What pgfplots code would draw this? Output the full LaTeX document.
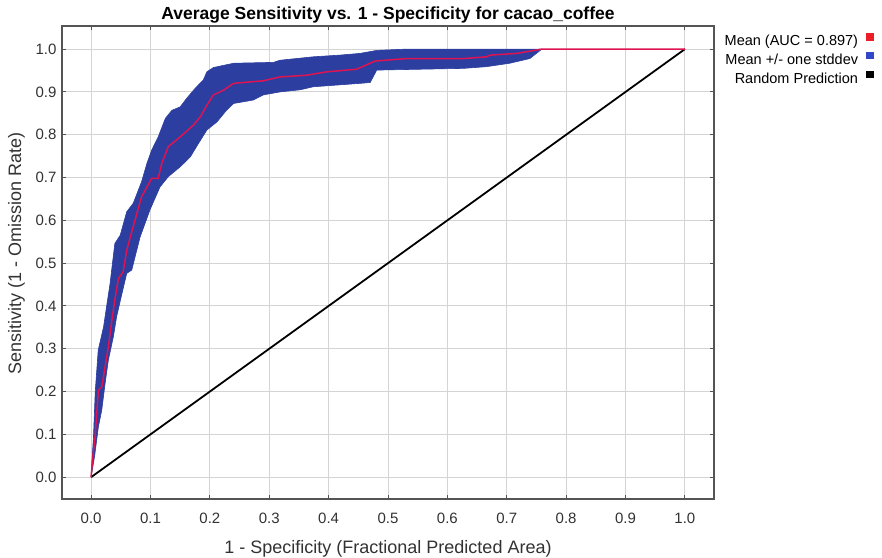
\documentclass[border=0pt]{standalone}
\usepackage{pgfplots}
\pgfplotsset{compat=1.18}
\usepackage{fontspec}
\setmainfont{Liberation Sans}
\definecolor{bandblue}{RGB}{44,62,160}
\definecolor{meanred}{RGB}{222,20,82}
\definecolor{legred}{RGB}{235,30,40}
\definecolor{legblue}{RGB}{50,70,200}
\definecolor{gridgray}{RGB}{212,212,212}
\definecolor{framegray}{RGB}{85,85,85}
\definecolor{labgray}{RGB}{50,50,50}
\begin{document}
\begin{tikzpicture}
\begin{axis}[
  name=ax,
  scale only axis,
  width=652pt, height=473pt,
  xmin=-0.049, xmax=1.049,
  ymin=-0.051, ymax=1.054,
  xtick={0,0.1,...,1.0},
  ytick={0,0.1,...,1.0},
  grid=major,
  major grid style={gridgray, line width=0.9pt},
  axis line style={framegray, line width=1.2pt},
  tick style={framegray, line width=1pt},
  major tick length=4pt,
  tick align=inside,
  /pgf/number format/assume math mode=true,
  /pgf/number format/fixed,
  /pgf/number format/fixed zerofill,
  /pgf/number format/precision=1,
  ticklabel style={font=\fontsize{15}{17}\selectfont, text=labgray},
  xticklabel style={yshift=-10pt},
  yticklabel style={xshift=-2pt},
  title={Average Sensitivity vs. 1 - Specificity for cacao\_coffee},
  title style={font=\bfseries\fontsize{17.5}{20}\selectfont, at={(axis description cs:0.5,1)}, anchor=base, yshift=0.5pt},
  xlabel={1 - Specificity (Fractional Predicted Area)},
  ylabel={Sensitivity (1 - Omission Rate)},
  xlabel style={font=\fontsize{18}{21}\selectfont, text=labgray, at={(axis description cs:0.5,-0.116)}, anchor=base},
  ylabel style={font=\fontsize{18}{21}\selectfont, text=labgray, at={(axis description cs:-0.070,0.52)}, anchor=center, rotate=0},
  legend plot pos=right,
  legend cell align=right,
  legend style={draw=none, fill=none, at={(rel axis cs:1,1)}, anchor=north west,
    xshift=6pt, yshift=-5pt, row sep=3pt,
    font=\fontsize{14.5}{17}\selectfont,
    nodes={inner sep=1.5pt, text=black}},
]
% random prediction
\addplot[black, line width=1.8pt, forget plot] coordinates {(0,0) (1,1)};
% mean +/- one stddev band
\addplot[fill=bandblue, draw=bandblue, line width=0.6pt, forget plot] coordinates {
(0,0) (0.002,0.05) (0.004,0.094) (0.007,0.20) (0.012,0.297) (0.021,0.351)
(0.026,0.398) (0.032,0.453) (0.036,0.50) (0.040,0.546) (0.049,0.565)
(0.060,0.620) (0.071,0.640) (0.085,0.690) (0.094,0.733) (0.102,0.764)
(0.113,0.795) (0.125,0.838) (0.136,0.857) (0.150,0.865) (0.161,0.885)
(0.175,0.908) (0.189,0.928) (0.195,0.947) (0.206,0.957) (0.240,0.967)
(0.307,0.969) (0.318,0.974) (0.374,0.982) (0.419,0.986) (0.453,0.990)
(0.481,0.997) (0.531,1.0) (0.759,1.0)
(0.739,0.978) (0.705,0.967) (0.666,0.959) (0.627,0.955) (0.481,0.951)
(0.470,0.922) (0.453,0.920) (0.374,0.912) (0.352,0.905) (0.318,0.900)
(0.290,0.893) (0.273,0.881) (0.240,0.873) (0.228,0.857) (0.212,0.830)
(0.195,0.811) (0.181,0.780) (0.167,0.748) (0.150,0.725) (0.130,0.702)
(0.116,0.678) (0.099,0.624) (0.0825,0.561) (0.0685,0.484) (0.060,0.476)
(0.052,0.429) (0.043,0.375) (0.0375,0.328) (0.029,0.273) (0.0236,0.219)
(0.018,0.157) (0.0123,0.118) (0.006,0.05) (0,0)
} -- cycle;
% mean
\addplot[meanred, line width=1.5pt, forget plot] coordinates {
(0,0) (0.003,0.05) (0.0067,0.094) (0.0123,0.203) (0.018,0.211) (0.0236,0.258)
(0.029,0.304) (0.035,0.367) (0.040,0.414) (0.046,0.464) (0.054,0.480)
(0.060,0.530) (0.066,0.561) (0.085,0.655) (0.102,0.698) (0.113,0.698)
(0.119,0.733) (0.130,0.772) (0.150,0.795) (0.172,0.822) (0.184,0.842)
(0.195,0.869) (0.206,0.893) (0.223,0.904) (0.240,0.920) (0.290,0.926)
(0.318,0.935) (0.363,0.939) (0.397,0.947) (0.447,0.953) (0.478,0.972)
(0.531,0.978) (0.627,0.978) (0.666,0.982) (0.672,0.986) (0.717,0.990)
(0.759,1.0) (1,1)
};
\addlegendimage{legend image code/.code={\path[draw=none, fill=none] (0pt,0pt) rectangle (1pt,1pt); \fill[legred] (7pt,1.5pt) rectangle (13.5pt,8pt);}}
\addlegendentry{Mean (AUC = 0.897)}
\addlegendimage{legend image code/.code={\path[draw=none, fill=none] (0pt,0pt) rectangle (1pt,1pt); \fill[legblue] (7pt,1.5pt) rectangle (13.5pt,8pt);}}
\addlegendentry{Mean +/- one stddev}
\addlegendimage{legend image code/.code={\path[draw=none, fill=none] (0pt,0pt) rectangle (1pt,1pt); \fill[black] (7pt,1.5pt) rectangle (13.5pt,8pt);}}
\addlegendentry{Random Prediction}
\end{axis}
\pgfresetboundingbox
\path ([shift={(-62pt,-58pt)}]ax.south west) rectangle ([shift={(168pt,26pt)}]ax.north east);
\end{tikzpicture}
\end{document}
